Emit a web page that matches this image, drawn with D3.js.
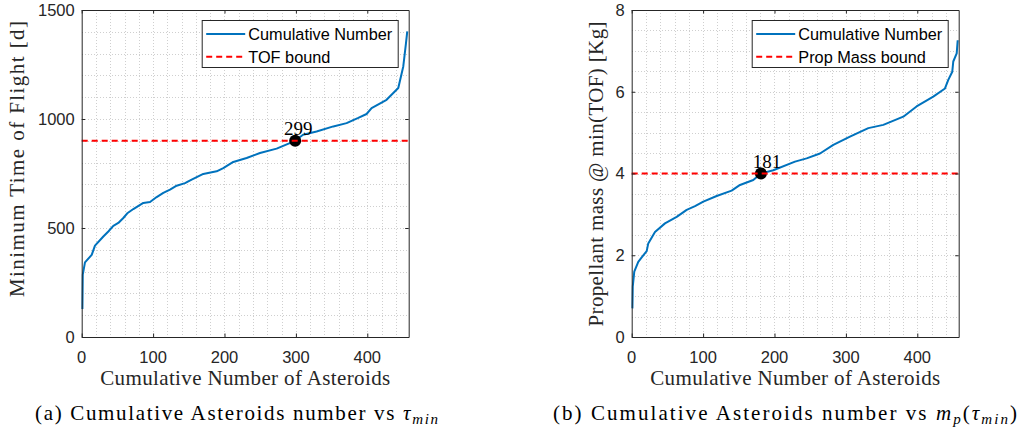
<!DOCTYPE html>
<html>
<head>
<meta charset="utf-8">
<script src="https://cdn.jsdelivr.net/npm/d3@7"></script>
<style>
  html, body { margin: 0; padding: 0; background: #fff; }
  svg { display: block; }
</style>
</head>
<body>
<svg id="chart" width="1022" height="432"></svg>
<script>
// ---------- data ----------
// Panel (a): cumulative number of asteroids vs minimum time of flight [d]
const countA = [1, 1.5, 4.6, 14, 18.6, 30.3, 37.3, 44.3, 51.3, 58.3, 64.4, 72.3, 86.3, 95.7, 105, 114.3, 123.7, 133, 144.7, 154, 170.3, 189, 198.3, 212.3, 231, 249.7, 273, 299, 310, 329, 352.4, 371, 387.4, 399, 406, 427, 436.4, 443.4, 450.4, 454.2, 456];
const tofDays = [128, 286, 342, 377, 419, 461, 484, 510, 523, 546, 569, 587, 615, 619, 642, 661, 676, 694, 706, 722, 748, 760, 775, 803, 821, 844, 864, 900, 928, 943, 966, 981, 1005, 1023, 1050, 1088, 1119, 1142, 1241, 1348, 1402];
const tofBound = 900;
const tofCross = { n: 299, v: 900 };

// Panel (b): cumulative number of asteroids vs propellant mass @ min(TOF) [Kg]
const countB = [1, 1.5, 3.6, 9.2, 14, 21, 23.2, 32.6, 46.6, 63, 77, 88.7, 100.3, 119, 140, 151.7, 170.3, 181, 198.3, 228.7, 245, 263.7, 282.4, 305.7, 331.4, 352.4, 380.4, 399, 422.4, 438.8, 443.4, 449, 450.4, 455.2, 456.6];
const propMass = [0.70, 1.24, 1.60, 1.84, 1.95, 2.10, 2.29, 2.57, 2.78, 2.94, 3.11, 3.20, 3.31, 3.45, 3.58, 3.72, 3.84, 4.00, 4.08, 4.29, 4.37, 4.49, 4.70, 4.90, 5.11, 5.19, 5.39, 5.64, 5.88, 6.08, 6.29, 6.49, 6.74, 6.94, 7.26];
const massBound = 4;
const massCross = { n: 181, v: 4 };

// axes / ticks
const xTicks = [0, 100, 200, 300, 400];
const xMinor = d3.range(0, 460, 20);
const yTicksA = [0, 500, 1000, 1500];
const yMinorA = d3.range(0, 1501, 100);
const yTicksB = [0, 2, 4, 6, 8];
const yMinorB = d3.range(0, 8.01, 0.5);
const xMax = 458;

// texts
const xTitle = "Cumulative Number of Asteroids";
const yTitleA = "Minimum Time of Flight [d]";
const yTitleB = "Propellant mass @ min(TOF) [Kg]";
const legendA = ["Cumulative Number", "TOF bound"];
const legendB = ["Cumulative Number", "Prop Mass bound"];

// ---------- drawing ----------
const svg = d3.select("#chart");
const SERIF = "'Liberation Serif', 'DejaVu Serif', serif";
const SANS = "'Liberation Sans', Arial, Helvetica, sans-serif";
const AX = "#262626";
const BLUE = "#0072BD";
const RED = "#FF0000";
const TFS = 21; // serif title size

function panel(o) {
  const g = svg.append("g");
  const x = d3.scaleLinear().domain([0, xMax]).range([o.left, o.right]);
  const y = d3.scaleLinear().domain(o.yDomain).range([o.bottom, o.top]);

  // grid (minor + major, dotted)
  const grid = g.append("g").attr("stroke", "#cfcfcf").attr("stroke-width", 1)
    .attr("stroke-dasharray", "1,2").attr("shape-rendering", "crispEdges");
  grid.selectAll(".gx").data(xMinor.filter(d => d > 0)).join("line")
    .attr("x1", d => Math.round(x(d)) + 0.5).attr("x2", d => Math.round(x(d)) + 0.5)
    .attr("y1", o.top).attr("y2", o.bottom);
  grid.selectAll(".gy").data(o.yMinor.filter(d => d > o.yDomain[0] && d < o.yDomain[1])).join("line")
    .attr("y1", d => Math.round(y(d)) + 0.5).attr("y2", d => Math.round(y(d)) + 0.5)
    .attr("x1", o.left).attr("x2", o.right);

  // curve
  const line = d3.line().x((d, i) => x(o.xs[i])).y(d => y(d));
  g.append("path").datum(o.ys).attr("d", line)
    .attr("fill", "none").attr("stroke", BLUE).attr("stroke-width", 2).attr("stroke-linejoin", "round");

  // crossing marker
  g.append("circle").attr("cx", x(o.cross.n)).attr("cy", y(o.cross.v)).attr("r", 6).attr("fill", "#000");

  // bound line
  g.append("line").attr("x1", o.left).attr("x2", o.right - 1)
    .attr("y1", y(o.bound)).attr("y2", y(o.bound))
    .attr("stroke", RED).attr("stroke-width", 2).attr("stroke-dasharray", "6,4");

  // crossing label
  g.append("text").attr("x", x(o.cross.n) + o.labelDx).attr("y", y(o.cross.v) - 5.5)
    .attr("text-anchor", "middle").attr("font-family", SERIF).attr("font-size", 19)
    .attr("fill", "#000").text(String(o.cross.n));

  // axes box and ticks (ticks on all four sides, inward)
  const xAxB = d3.axisBottom(x).tickValues(xTicks).tickSizeInner(-3.5).tickSizeOuter(0).tickFormat("");
  const xAxT = d3.axisTop(x).tickValues(xTicks).tickSizeInner(-3.5).tickSizeOuter(0).tickFormat("");
  const yAxL = d3.axisLeft(y).tickValues(o.yTicks).tickSizeInner(-3.5).tickSizeOuter(0).tickFormat("");
  const yAxR = d3.axisRight(y).tickValues(o.yTicks).tickSizeInner(-3.5).tickSizeOuter(0).tickFormat("");
  const axes = [
    [xAxB, `translate(0,${o.bottom})`], [xAxT, `translate(0,${o.top})`],
    [yAxL, `translate(${o.left},0)`], [yAxR, `translate(${o.right},0)`]
  ];
  axes.forEach(([ax, tr]) => {
    const a = g.append("g").attr("transform", tr).call(ax);
    a.selectAll("path,line").attr("stroke", AX).attr("stroke-width", 1);
  });

  // tick labels
  g.append("g").selectAll("text").data(xTicks).join("text")
    .attr("x", d => x(d)).attr("y", o.bottom + 26).attr("text-anchor", "middle")
    .attr("font-family", SANS).attr("font-size", 16.5).attr("fill", AX).text(d => d);
  g.append("g").selectAll("text").data(o.yTicks).join("text")
    .attr("x", o.left - 7).attr("y", d => y(d)).attr("dy", "0.36em").attr("text-anchor", "end")
    .attr("font-family", SANS).attr("font-size", 16.5).attr("fill", AX).text(d => d);

  // axis titles
  g.append("text").attr("x", (o.left + o.right) / 2).attr("y", o.bottom + 48)
    .attr("text-anchor", "middle").attr("font-family", SERIF).attr("font-size", TFS)
    .attr("textLength", 290).attr("lengthAdjust", "spacing")
    .attr("fill", AX).text(xTitle);
  g.append("text").attr("transform", `translate(${o.yTitleX},${o.yTitleY}) rotate(-90)`)
    .attr("text-anchor", "middle").attr("font-family", SERIF).attr("font-size", TFS)
    .attr("textLength", o.yTitleLen).attr("lengthAdjust", "spacing")
    .attr("fill", AX).text(o.yTitle);

  // legend
  const lg = g.append("g").attr("transform", `translate(${o.legX},20)`);
  lg.append("rect").attr("x", 0.5).attr("y", 0.5).attr("width", 196).attr("height", 47)
    .attr("fill", "#fff").attr("stroke", AX).attr("stroke-width", 1);
  const rows = [{ c: BLUE, dash: null }, { c: RED, dash: "6,4" }];
  o.legend.forEach((t, i) => {
    const yy = 14 + i * 22.7;
    lg.append("line").attr("x1", 4.5).attr("x2", 43.5).attr("y1", yy).attr("y2", yy)
      .attr("stroke", rows[i].c).attr("stroke-width", 2).attr("stroke-dasharray", rows[i].dash);
    lg.append("text").attr("x", 46.6).attr("y", yy).attr("dy", "0.36em")
      .attr("font-family", SANS).attr("font-size", 16.3).attr("fill", "#000").text(t);
  });
}

panel({
  left: 81.7, right: 408.7, top: 10, bottom: 337,
  yDomain: [0, 1500], yTicks: yTicksA, yMinor: yMinorA,
  xs: countA, ys: tofDays, bound: tofBound, cross: tofCross, labelDx: 3,
  yTitle: yTitleA, yTitleX: 24, yTitleY: 159, yTitleLen: 276,
  legend: legendA, legX: 201.7
});
panel({
  left: 631.7, right: 958.7, top: 10, bottom: 337,
  yDomain: [0, 8], yTicks: yTicksB, yMinor: yMinorB,
  xs: countB, ys: propMass, bound: massBound, cross: massCross, labelDx: 6,
  yTitle: yTitleB, yTitleX: 603, yTitleY: 174, yTitleLen: 305,
  legend: legendB, legX: 751.7
});

// captions
const capA = svg.append("text").attr("x", 35).attr("y", 420)
  .attr("font-family", SERIF).attr("font-size", TFS).attr("fill", "#000")
  .attr("textLength", 403).attr("lengthAdjust", "spacing");
capA.append("tspan").text("(a) Cumulative Asteroids number vs ");
capA.append("tspan").attr("font-style", "italic").text("τ");
capA.append("tspan").attr("font-style", "italic").attr("font-size", 15).attr("dy", 4).text("min");

const capB = svg.append("text").attr("x", 553).attr("y", 420)
  .attr("font-family", SERIF).attr("font-size", TFS).attr("fill", "#000")
  .attr("textLength", 464).attr("lengthAdjust", "spacing");
capB.append("tspan").text("(b) Cumulative Asteroids number vs ");
capB.append("tspan").attr("font-style", "italic").text("m");
capB.append("tspan").attr("font-style", "italic").attr("font-size", 15).attr("dy", 4).text("p");
capB.append("tspan").attr("dy", -4).text("(");
capB.append("tspan").attr("font-style", "italic").text("τ");
capB.append("tspan").attr("font-style", "italic").attr("font-size", 15).attr("dy", 4).text("min");
capB.append("tspan").attr("dy", -4).text(")");
</script>
</body>
</html>
